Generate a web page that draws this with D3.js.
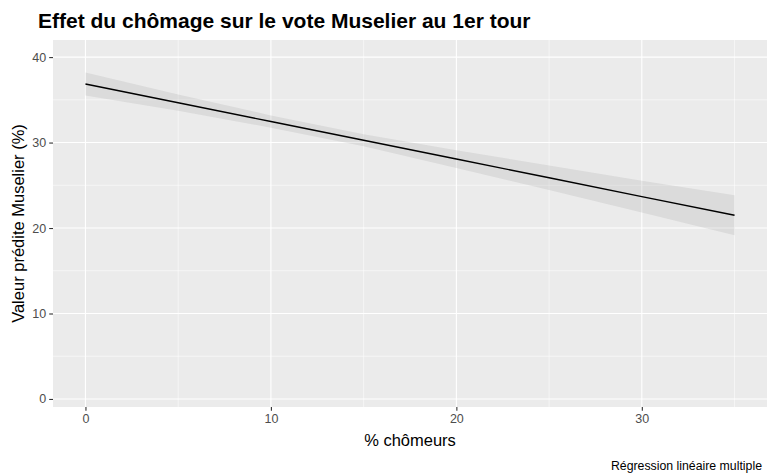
<!DOCTYPE html>
<html>
<head>
<meta charset="utf-8">
<script src="https://cdn.jsdelivr.net/npm/d3@7"></script>
<style>
  body { margin: 0; background: #fff; }
  text { font-family: "Liberation Sans", Arial, sans-serif; }
</style>
</head>
<body>
<div class="canvas"></div>
<script>
// data (predicted values and 95% band)
const chomeurs = [0, 5, 10, 15, 20, 25, 30, 35];
const fit = [36.85, 34.66, 32.46, 30.27, 28.07, 25.88, 23.68, 21.49];
const lower = [35.50, 33.71, 31.74, 29.57, 27.03, 24.44, 21.82, 19.15];
const upper = [38.20, 35.61, 33.18, 30.97, 29.11, 27.32, 25.54, 23.83];
const xTicks = [0, 10, 20, 30];
const yTicks = [0, 10, 20, 30, 40];
const xMinor = [5, 15, 25, 35];
const yMinor = [5, 15, 25, 35];

const data = chomeurs.map((x, i) => ({ x, fit: fit[i], lo: lower[i], hi: upper[i] }));

const width = 768, height = 475;
const svg = d3.select('.canvas')
    .append('svg')
    .attr('width', width)
    .attr('height', height);

// panel box
const panel = { left: 53, right: 767, top: 40, bottom: 407 };

const xScale = d3.scaleLinear()
    .domain([-1.75, 36.75])
    .range([panel.left, panel.right]);

const yScale = d3.scaleLinear()
    .domain([-0.94, 42])
    .range([panel.bottom, panel.top]);

// background
svg.append('rect')
    .attr('x', panel.left)
    .attr('y', panel.top)
    .attr('width', panel.right - panel.left)
    .attr('height', panel.bottom - panel.top)
    .attr('fill', '#EBEBEB');

const grid = svg.append('g');

// minor grid
grid.selectAll('.vminor').data(xMinor).enter().append('line')
    .attr('x1', d => xScale(d)).attr('x2', d => xScale(d))
    .attr('y1', panel.top).attr('y2', panel.bottom)
    .attr('stroke', '#fff').attr('stroke-width', 0.55);
grid.selectAll('.hminor').data(yMinor).enter().append('line')
    .attr('y1', d => yScale(d)).attr('y2', d => yScale(d))
    .attr('x1', panel.left).attr('x2', panel.right)
    .attr('stroke', '#fff').attr('stroke-width', 0.55);

// major grid
grid.selectAll('.vmajor').data(xTicks).enter().append('line')
    .attr('x1', d => xScale(d)).attr('x2', d => xScale(d))
    .attr('y1', panel.top).attr('y2', panel.bottom)
    .attr('stroke', '#fff').attr('stroke-width', 1.1);
grid.selectAll('.hmajor').data(yTicks).enter().append('line')
    .attr('y1', d => yScale(d)).attr('y2', d => yScale(d))
    .attr('x1', panel.left).attr('x2', panel.right)
    .attr('stroke', '#fff').attr('stroke-width', 1.1);

// confidence band
const area = d3.area()
    .x(d => xScale(d.x))
    .y0(d => yScale(d.lo))
    .y1(d => yScale(d.hi));

svg.append('path')
    .datum(data)
    .attr('d', area)
    .attr('fill', '#999999')
    .attr('fill-opacity', 0.2);

// fitted line
const line = d3.line()
    .x(d => xScale(d.x))
    .y(d => yScale(d.fit));

svg.append('path')
    .datum(data)
    .attr('d', line)
    .attr('fill', 'none')
    .attr('stroke', '#000')
    .attr('stroke-width', 1.4);

// axes
const xAxis = d3.axisBottom(xScale)
    .tickValues(xTicks)
    .tickSize(3.8)
    .tickPadding(3);
const yAxis = d3.axisLeft(yScale)
    .tickValues(yTicks)
    .tickSize(3.8)
    .tickPadding(3);

const xAxisGroup = svg.append('g')
    .attr('transform', `translate(0,${panel.bottom})`)
    .call(xAxis);
const yAxisGroup = svg.append('g')
    .attr('transform', `translate(${panel.left},0)`)
    .call(yAxis);

[xAxisGroup, yAxisGroup].forEach(g => {
    g.select('.domain').remove();
    g.selectAll('line').attr('stroke', '#333333').attr('stroke-width', 1.1);
    g.selectAll('text')
        .attr('fill', '#4D4D4D')
        .style('font-size', '12.5px')
        .style('font-family', '"Liberation Sans", Arial, sans-serif');
});

// titles
svg.append('text')
    .attr('x', 38)
    .attr('y', 28)
    .attr('font-size', 21)
    .attr('font-weight', 'bold')
    .attr('fill', '#000')
    .text('Effet du chômage sur le vote Muselier au 1er tour');

svg.append('text')
    .attr('x', (panel.left + panel.right) / 2)
    .attr('y', 446)
    .attr('text-anchor', 'middle')
    .attr('font-size', 16.5)
    .attr('fill', '#000')
    .text('% chômeurs');

svg.append('text')
    .attr('transform', `translate(24,${(panel.top + panel.bottom) / 2}) rotate(-90)`)
    .attr('text-anchor', 'middle')
    .attr('font-size', 16.5)
    .attr('fill', '#000')
    .text('Valeur prédite Muselier (%)');

svg.append('text')
    .attr('x', 762)
    .attr('y', 470)
    .attr('text-anchor', 'end')
    .attr('font-size', 12.3)
    .attr('fill', '#000')
    .text('Régression linéaire multiple');
</script>
</body>
</html>
